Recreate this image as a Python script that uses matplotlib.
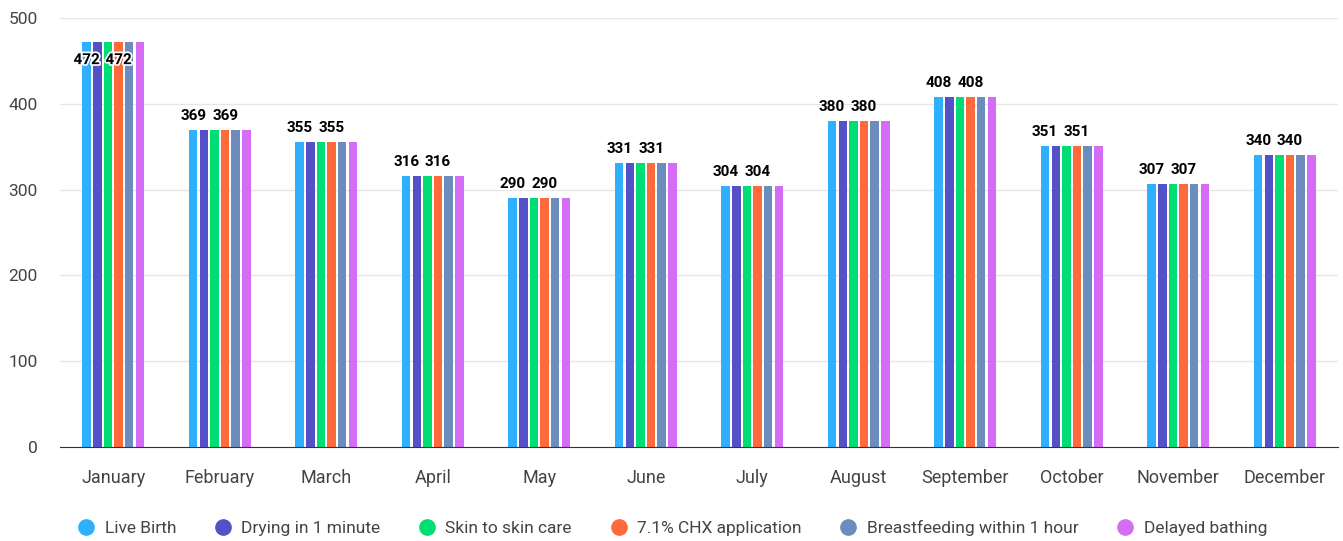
import numpy as np
import matplotlib.pyplot as plt
import matplotlib.patheffects as pe

plt.rcParams['font.family'] = ['Roboto', 'DejaVu Sans']

months = ['January', 'February', 'March', 'April', 'May', 'June', 'July',
          'August', 'September', 'October', 'November', 'December']
live_birth = [472, 369, 355, 316, 290, 331, 304, 380, 408, 351, 307, 340]
drying = [472, 369, 355, 316, 290, 331, 304, 380, 408, 351, 307, 340]
skin_to_skin = [472, 369, 355, 316, 290, 331, 304, 380, 408, 351, 307, 340]
chx = [472, 369, 355, 316, 290, 331, 304, 380, 408, 351, 307, 340]
breastfeeding = [472, 369, 355, 316, 290, 331, 304, 380, 408, 351, 307, 340]
delayed_bathing = [472, 369, 355, 316, 290, 331, 304, 380, 408, 351, 307, 340]

series = [
    ('Live Birth', live_birth, '#2eb0ff'),
    ('Drying in 1 minute', drying, '#5451c8'),
    ('Skin to skin care', skin_to_skin, '#00dd75'),
    ('7.1% CHX application', chx, '#ff6a3a'),
    ('Breastfeeding within 1 hour', breastfeeding, '#6c8cbe'),
    ('Delayed bathing', delayed_bathing, '#d46cf5'),
]
# only these series get value labels (others are hidden by overlap)
labelled = [0, 3]

fig = plt.figure(figsize=(13.43, 5.41), dpi=100)
ax = fig.add_axes([60 / 1343, 94 / 541, 1278 / 1343, 429 / 541])

x = np.arange(len(months))
step = 0.1
width = 0.08
for i, (name, vals, col) in enumerate(series):
    pos = x + (i - 2.5) * step
    ax.bar(pos, vals, width=width, color=col, label=name, zorder=3)
    if i in labelled:
        for px, v in zip(pos, vals):
            if v > 450:
                t = ax.annotate(str(v), (px, v), xytext=(0, -8), textcoords='offset points',
                                ha='center', va='top', fontsize=11, fontweight='bold', color='black',
                                zorder=5)
                t.set_path_effects([pe.withStroke(linewidth=2.5, foreground='white')])
            else:
                ax.annotate(str(v), (px, v), xytext=(0, 5), textcoords='offset points',
                            ha='center', va='bottom', fontsize=11, fontweight='bold', color='black',
                            zorder=5)

ax.set_xlim(-0.5, 11.5)
ax.set_ylim(0, 500)
ax.set_yticks([0, 100, 200, 300, 400, 500])
ax.set_xticks(x)
ax.set_xticklabels(months)
ax.tick_params(axis='both', length=0, labelsize=12.5, colors='#444444')
ax.tick_params(axis='x', pad=16, labelsize=13)
ax.tick_params(axis='y', pad=16)
ax.grid(axis='y', color='#e6e6e6', linewidth=1, zorder=0)
for s in ['top', 'right', 'left']:
    ax.spines[s].set_visible(False)
ax.spines['bottom'].set_color('#333333')
ax.spines['bottom'].set_zorder(4)

handles = [plt.Line2D([], [], marker='o', linestyle='', markersize=11, color=c) for _, _, c in series]
fig.legend(handles, [s[0] for s in series], loc='center', bbox_to_anchor=(0.5, 13 / 541),
           ncol=6, frameon=False, fontsize=12.5, handletextpad=0.45, columnspacing=2.1,
           handlelength=1.2, labelcolor='#444444')

fig.savefig('out.png', dpi=100)
